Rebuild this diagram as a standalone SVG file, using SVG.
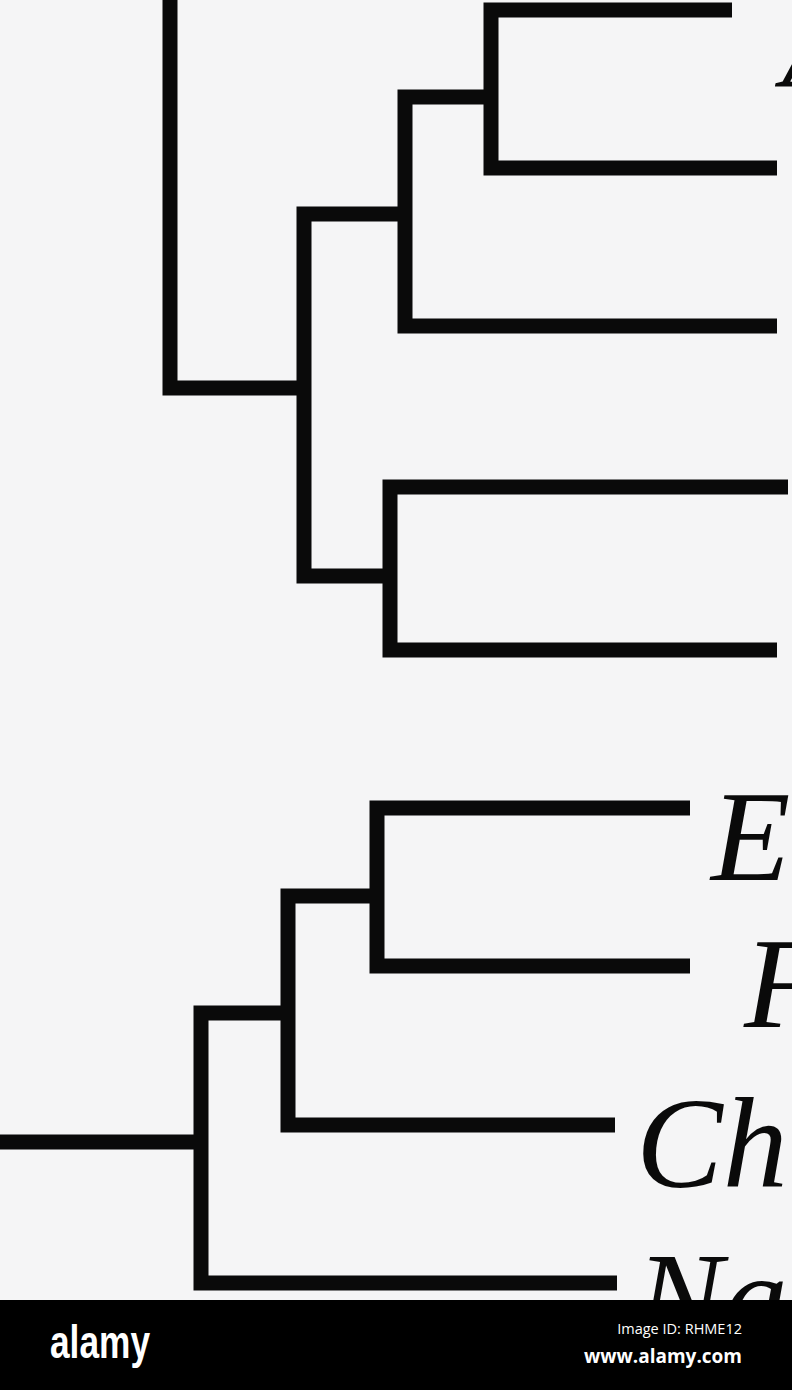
<svg xmlns="http://www.w3.org/2000/svg" width="792" height="1390" viewBox="0 0 792 1390">
<style>
.br{fill:none;stroke:#0a0a0a;stroke-width:15;stroke-linejoin:miter;stroke-linecap:butt}
.lab{font-family:"Liberation Serif","Times New Roman",serif;font-style:italic;font-size:130px;fill:#0a0a0a}
.logo{font-family:"Liberation Sans",Arial,sans-serif;font-weight:bold;fill:#ffffff}
.info{font-family:"Open Sans","Noto Sans",sans-serif;fill:#ffffff}
</style>
<rect width="792" height="1390" fill="#f5f5f6"/>
<g id="connectors">
<path class="br" d="M170,0 V388 H304"/>
<path class="br" d="M405,214 H304 V576 H390"/>
<path class="br" d="M777,326 H405 V97 H491"/>
<path class="br" d="M732,10 H491 V168 H777"/>
<path class="br" d="M788,487 H390 V650 H777"/>
<path class="br" d="M690,808 H377 V966 H690"/>
<path class="br" d="M377,896 H288 V1125 H615"/>
<path class="br" d="M288,1013 H201 V1283 H617"/>
<path class="br" d="M0,1142 H201"/>
</g>
<g id="node-a"><text class="lab" x="782" y="87">A</text></g>
<g id="node-e"><text class="lab" x="711" y="880">E</text></g>
<g id="node-f"><text class="lab" x="744" y="1027">F</text></g>
<g id="node-ch"><text class="lab" x="636" y="1187">Ch</text></g>
<g id="node-na"><text class="lab" x="636" y="1342">Na</text></g>
<g id="footer">
<rect x="0" y="1300" width="792" height="90" fill="#000000"/>
<text class="logo" x="50" y="1358" font-size="46" textLength="100" lengthAdjust="spacingAndGlyphs">alamy</text>
<text class="info" x="742" y="1334" font-size="14.5" text-anchor="end">Image ID: RHME12</text>
<text class="info" x="742" y="1363" font-size="19" font-weight="bold" text-anchor="end">www.alamy.com</text>
</g>
</svg>
